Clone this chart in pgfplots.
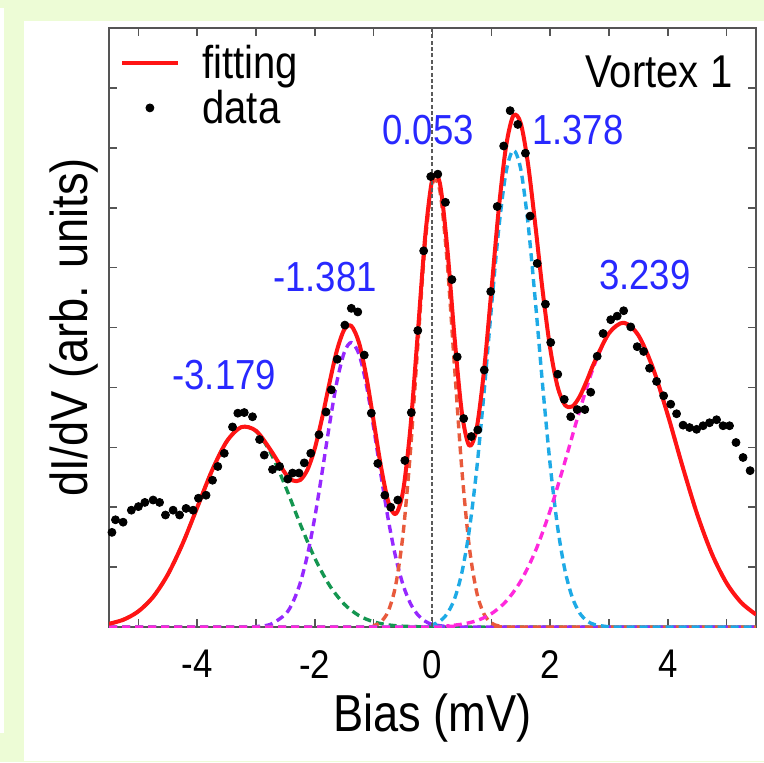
\documentclass[border=0pt]{standalone}
\usepackage{fontspec}
\setmainfont{Liberation Sans}[FakeStretch=0.87]
\usepackage{pgfplots}
\pgfplotsset{compat=1.18}

\definecolor{bggreen}{RGB}{237,252,214}
\definecolor{axiscol}{RGB}{85,85,85}
\definecolor{zerocol}{RGB}{90,90,90}
\definecolor{fitred}{RGB}{255,20,20}
\definecolor{greenc}{RGB}{20,150,80}
\definecolor{purplec}{RGB}{150,40,255}
\definecolor{orangec}{RGB}{232,90,60}
\definecolor{bluec}{RGB}{30,170,230}
\definecolor{magc}{RGB}{255,40,220}
\definecolor{labblue}{RGB}{40,40,255}

\newcommand\peaksz{\fontsize{21}{25}\selectfont}
\newcommand\legsz{\fontsize{23}{27}\selectfont}
\newcommand\ticksz{\fontsize{20}{24}\selectfont}
\newcommand\axsz{\fontsize{26}{30}\selectfont}

\pgfplotsset{
  fitleg/.style={legend image code/.code={\draw[##1] plot coordinates {(0pt,0pt) (27.5pt,0pt)};}},
  dotleg/.style={legend image code/.code={\draw[mark repeat=2,mark phase=2,##1] plot coordinates {(0pt,0pt) (13.75pt,0pt) (27.5pt,0pt)};}},
  comp/.style={line width=1.7pt, dash pattern=on 4pt off 2.5pt, smooth, forget plot},
}

\begin{document}
\begin{tikzpicture}
\useasboundingbox (0,0) rectangle (382pt,381pt);
\fill[bggreen] (0,0) rectangle (382pt,381pt);
\fill[white] (12pt,0.5pt) rectangle (382pt,370.5pt);
\fill[white] (0pt,14.5pt) rectangle (2pt,377pt);
\begin{axis}[
  at={(54.5pt,67.5pt)}, anchor=south west,
  width=323.5pt, height=299.5pt, scale only axis,
  xmin=-5.5, xmax=5.5, ymin=0, ymax=10,
  xtick={-4,-2,0,2,4}, xticklabels={-4,-2,0,2,4},
  minor xtick={-5,-3,-1,1,3,5},
  ytick={1,2,3,4,5,6,7,8,9}, yticklabels={},
  tick align=inside,
  major tick length=4pt, minor tick length=4pt,
  tick style={axiscol, line width=0.8pt},
  axis line style={axiscol, line width=0.9pt},
  xticklabel style={font=\ticksz, inner sep=0pt, yshift=-11.5pt},
  xlabel={Bias (mV)}, ylabel={dI/dV (arb. units)},
  xlabel style={at={(axis description cs:0.5,-0.175)}, anchor=base, font=\axsz},
  ylabel style={at={(axis description cs:-0.0325,0.5)}, anchor=base, font=\axsz},
  legend style={draw=none, fill=none, at={(axis description cs:0,1)},
    anchor=north west, xshift=5.5pt, yshift=-8.2pt, font=\legsz,
    inner sep=0pt, row sep=4.3pt,
    nodes={inner sep=0pt, outer sep=0pt},
    /tikz/every odd column/.append style={column sep=11.5pt}},
  legend cell align=left,
  every axis plot/.append style={line join=round},
]
% fitted components
\addplot[greenc, comp] coordinates {
(-5.5,0.053) (-5.25,0.124) (-5.0,0.262) (-4.75,0.502) (-4.5,0.876) (-4.25,1.387)
(-4.0,1.996) (-3.75,2.609) (-3.5,3.096) (-3.25,3.337) (-3.0,3.268) (-2.75,2.905)
(-2.5,2.347) (-2.25,1.721) (-2.0,1.147) (-1.75,0.694) (-1.5,0.381) (-1.25,0.190)
(-1.0,0.086) (-0.75,0.035) (-0.5,0.013) (-0.25,0.005) (0,0.002) (0.5,0) (5.5,0)};
\addplot[purplec, comp] coordinates {
(-5.5,0) (-3.25,0) (-3.0,0.007) (-2.75,0.046) (-2.5,0.214) (-2.375,0.412) (-2.25,0.732)
(-2.125,1.206) (-2.0,1.838) (-1.875,2.594) (-1.75,3.387) (-1.625,4.096) (-1.5,4.584)
(-1.38,4.75) (-1.25,4.556) (-1.125,4.045) (-1.0,3.325) (-0.875,2.530) (-0.75,1.782)
(-0.625,1.162) (-0.5,0.702) (-0.375,0.392) (-0.25,0.203) (-0.125,0.097) (0,0.043)
(0.25,0.007) (0.5,0) (5.5,0)};
\addplot[orangec, comp] coordinates {
(-5.5,0) (-1.25,0) (-1.0,0.024) (-0.875,0.088) (-0.75,0.269) (-0.625,0.702) (-0.5,1.556)
(-0.375,2.933) (-0.25,4.697) (-0.125,6.397) (0,7.403) (0.125,7.283) (0.25,6.092)
(0.375,4.331) (0.5,2.617) (0.625,1.344) (0.75,0.587) (0.875,0.218) (1.0,0.069)
(1.125,0.018) (1.375,0) (5.5,0)};
\addplot[bluec, comp] coordinates {
(-5.5,0) (-0.25,0) (0,0.039) (0.125,0.097) (0.25,0.223) (0.375,0.471) (0.5,0.911)
(0.625,1.613) (0.75,2.620) (0.875,3.898) (1.0,5.312) (1.125,6.635) (1.25,7.592)
(1.375,7.96) (1.5,7.645) (1.625,6.729) (1.75,5.426) (1.875,4.008) (2.0,2.714)
(2.125,1.683) (2.25,0.956) (2.375,0.498) (2.5,0.237) (2.625,0.104) (2.75,0.042)
(3.0,0.004) (3.25,0) (5.5,0)};
\addplot[magc, comp] coordinates {
(-5.5,0) (0,0) (0.25,0.019) (0.5,0.047) (0.75,0.105) (1.0,0.221) (1.25,0.428)
(1.5,0.766) (1.75,1.268) (2.0,1.943) (2.25,2.753) (2.5,3.607) (2.75,4.372) (3.0,4.900)
(3.25,5.080) (3.5,4.870) (3.75,4.317) (4.0,3.541) (4.25,2.685) (4.5,1.883) (4.75,1.222)
(5.0,0.733) (5.25,0.407) (5.5,0.209)};
% total fit
\addplot[fitred, line width=2pt, smooth, fitleg] coordinates {
(-5.5,0.053) (-5.25,0.124) (-5.0,0.262) (-4.75,0.502) (-4.5,0.876) (-4.25,1.387)
(-4.0,1.996) (-3.75,2.609) (-3.5,3.096) (-3.25,3.337) (-3.0,3.275) (-2.75,2.951)
(-2.5,2.561) (-2.375,2.446) (-2.25,2.453) (-2.125,2.628) (-2.0,2.985) (-1.875,3.497)
(-1.75,4.081) (-1.625,4.617) (-1.5,4.965) (-1.38,5.026) (-1.25,4.748) (-1.125,4.181)
(-1.0,3.435) (-0.875,2.674) (-0.75,2.086) (-0.625,1.886) (-0.5,2.271) (-0.375,3.333)
(-0.25,4.905) (-0.125,6.511) (0,7.487) (0.125,7.410) (0.25,6.341) (0.375,4.832)
(0.5,3.575) (0.625,3.028) (0.75,3.312) (0.875,4.270) (1.0,5.602) (1.125,6.963)
(1.25,8.020) (1.375,8.538) (1.5,8.411) (1.625,7.724) (1.75,6.694) (1.875,5.593)
(2.0,4.657) (2.125,4.019) (2.25,3.709) (2.375,3.681) (2.5,3.844) (2.625,4.115)
(2.75,4.414) (3.0,4.904) (3.25,5.080) (3.5,4.870) (3.75,4.317) (4.0,3.541)
(4.25,2.685) (4.5,1.883) (4.75,1.222) (5.0,0.733) (5.25,0.407) (5.5,0.209)};
\addlegendentry{fitting}
% measured spectrum
\addplot[only marks, mark=*, mark size=2pt, black, dotleg] coordinates {
(-5.45,1.58) (-5.39,1.79) (-5.26,1.75) (-5.12,1.95) (-5.00,2.01) (-4.89,2.08)
(-4.75,2.12) (-4.64,2.08) (-4.54,1.87) (-4.41,1.95) (-4.30,1.87) (-4.19,1.98)
(-4.07,1.95) (-3.98,2.15) (-3.85,2.20) (-3.74,2.45) (-3.65,2.68) (-3.54,2.90)
(-3.40,3.34) (-3.31,3.57) (-3.20,3.58) (-3.06,3.51) (-2.94,3.13) (-2.86,2.87)
(-2.72,2.63) (-2.60,2.68) (-2.46,2.47) (-2.38,2.57) (-2.27,2.57) (-2.18,2.74)
(-2.07,2.90) (-1.93,3.21) (-1.81,3.59) (-1.72,3.96) (-1.62,4.47) (-1.49,5.04)
(-1.38,5.32) (-1.27,5.26) (-1.16,4.54) (-1.04,3.57) (-0.93,2.73) (-0.81,2.20)
(-0.71,2.00) (-0.59,2.12) (-0.47,2.78) (-0.36,3.58) (-0.25,4.95) (-0.15,6.28)
(-0.03,7.52) (0.09,7.56) (0.22,7.09) (0.33,5.80) (0.42,4.51) (0.53,3.48)
(0.66,3.18) (0.77,3.29) (0.88,4.29) (0.99,5.60) (1.10,7.02) (1.21,8.03)
(1.32,8.62) (1.45,8.39) (1.58,7.91) (1.66,6.86) (1.78,6.07) (1.92,5.39)
(2.01,4.75) (2.13,4.22) (2.24,3.80) (2.35,3.51) (2.46,3.63) (2.59,3.63)
(2.69,3.92) (2.80,4.52) (2.90,4.90) (3.03,5.13) (3.14,5.19) (3.25,5.28)
(3.37,5.01) (3.48,4.68) (3.59,4.60) (3.69,4.32) (3.81,4.10) (3.93,3.86)
(4.05,3.72) (4.15,3.56) (4.26,3.37) (4.37,3.33) (4.49,3.30) (4.60,3.36)
(4.71,3.41) (4.83,3.46) (4.94,3.36) (5.05,3.36) (5.16,3.08) (5.28,2.83)
(5.40,2.61)};
\addlegendentry{data}
% zero-bias marker
\addplot[zerocol, line width=1pt, dash pattern=on 2pt off 1.2pt, forget plot] coordinates {(0,0) (0,10)};
% peak positions
\node[anchor=base, font=\peaksz, text=labblue] at (axis cs:-3.54,3.96) {-3.179};
\node[anchor=base, font=\peaksz, text=labblue] at (axis cs:-1.83,5.60) {-1.381};
\node[anchor=base, font=\peaksz, text=labblue] at (axis cs:-0.076,8.05) {0.053};
\node[anchor=base, font=\peaksz, text=labblue] at (axis cs:2.47,8.05) {1.378};
\node[anchor=base, font=\peaksz, text=labblue] at (axis cs:3.61,5.63) {3.239};
\node[anchor=base east, font=\legsz, inner sep=0pt] at (axis description cs:0.964,0.900) {Vortex 1};
\end{axis}
\end{tikzpicture}
\end{document}
